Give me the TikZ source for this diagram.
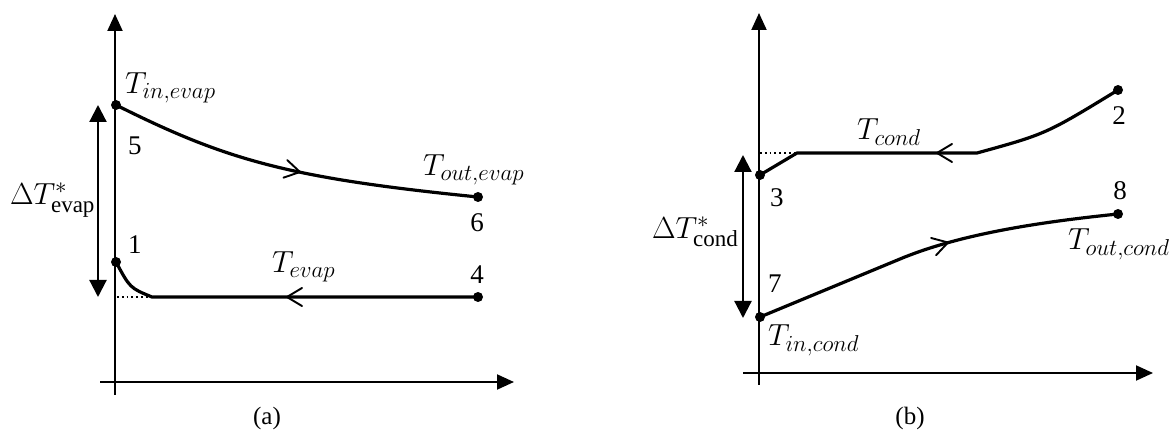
\RequirePackage{fix-cm}
\documentclass[tikz,border=0pt]{standalone}
\usepackage{fontspec}
\setmainfont{Liberation Serif}
\usetikzlibrary{arrows.meta}
\DeclareMathSizes{30.5}{30.5}{23}{18}
\begin{document}
\begin{tikzpicture}[x=1pt,y=-1pt,
  every node/.style={inner sep=0pt, outer sep=0pt},
  axis/.style={line width=2pt, -{Triangle[length=17pt,width=15pt]}},
  curve/.style={line width=3.2pt, line cap=round, line join=round},
  dimarrow/.style={line width=2.2pt, {Triangle[length=17pt,width=17pt]}-{Triangle[length=17pt,width=17pt]}},
  dotline/.style={line width=1.8pt, dash pattern=on 1.8pt off 3pt},
  dot/.style={circle, fill=black, inner sep=0pt, minimum size=10pt},
  mth/.style={font=\fontsize{30.5}{36}\selectfont},
  num/.style={font=\fontsize{27}{32}\selectfont},
  captext/.style={font=\fontsize{25}{30}\selectfont},
  chev/.pic={\draw[line width=1.9pt, line cap=round, line join=miter] (-15,9) -- (0,0) -- (-15,-9);}
]
\useasboundingbox (0,0) rectangle (1176,438);

% ---------- panel (a) ----------
\coordinate (ayb) at (115,395);
\coordinate (ayt) at (115,14);
\coordinate (axl) at (100,382);
\coordinate (axr) at (514,382);
\draw[axis] (ayb) -- (ayt);
\draw[axis] (axl) -- (axr);

\node[dot] (p5) at (116,105) {};
\node[dot] (p6) at (478,197) {};
\node[dot] (p1) at (116,262) {};
\node[dot] (p4) at (478,297) {};
\coordinate (a1) at (152,297);
\coordinate (a0) at (117,297);

\draw[curve] (p5.center) .. controls (226,160) and (288,178) .. (p6.center);
\draw[curve] (p4.center) -- (a1) .. controls (130,288) .. (p1.center);
\draw[dotline] (a0) -- (a1);
\pic[rotate=-12] at (300,172) {chev};
\pic[rotate=180] at (287,297) {chev};

\coordinate (da1) at (98,105);
\coordinate (da2) at (98,297);
\draw[dimarrow] (da1) -- (da2);

\node[mth, anchor=base west] (tin) at (125,94) {$T_{in,evap}$};
\node[num, anchor=base west] (n5) at (128,155) {5};
\node[mth, anchor=base west] (tout) at (423,176) {$T_{out,evap}$};
\node[num, anchor=base] (n6) at (477,232) {6};
\node[num, anchor=base west] (n1) at (128,254) {1};
\node[mth, anchor=base west] (tev) at (272,273) {$T_{evap}$};
\node[num, anchor=base] (n4) at (477,284) {4};
\node[mth, anchor=base west] (dte) at (10,205) {$\Delta T^{*}_{\mathrm{evap}}$};
\node[captext] (capa) at (267,418) {(a)};

% ---------- panel (b) ----------
\coordinate (byb) at (759,385);
\coordinate (byt) at (759,13);
\coordinate (bxl) at (743,373);
\coordinate (bxr) at (1153,373);
\draw[axis] (byb) -- (byt);
\draw[axis] (bxl) -- (bxr);

\node[dot] (p3) at (760,175) {};
\node[dot] (p2) at (1118,90) {};
\node[dot] (p7) at (760,317) {};
\node[dot] (p8) at (1118,214) {};
\coordinate (b3) at (797,153);
\coordinate (b2) at (977,153);
\coordinate (b0) at (760,153);
\coordinate (b7) at (900,259);

\draw[curve] (p2.center) .. controls (1046,134) .. (b2) -- (b3) -- (p3.center);
\draw[dotline] (b0) -- (b3);
\draw[curve] (p7.center) -- (b7) .. controls (960,234) and (1040,222) .. (p8.center);
\pic[rotate=180] at (937,153) {chev};
\pic[rotate=16] at (948,242.5) {chev};

\coordinate (db1) at (743,155);
\coordinate (db2) at (743,318);
\draw[dimarrow] (db1) -- (db2);

\node[mth, anchor=base west] (tcond) at (857,140) {$T_{cond}$};
\node[num, anchor=base] (n2) at (1119,125) {2};
\node[num, anchor=base west] (n3) at (770,207) {3};
\node[mth, anchor=base west] (dtc) at (652,239) {$\Delta T^{*}_{\mathrm{cond}}$};
\node[num, anchor=base west] (n7) at (768,293) {7};
\node[mth, anchor=base west] (tinc) at (768,346) {$T_{in,cond}$};
\node[num, anchor=base] (n8) at (1120,200) {8};
\node[mth, anchor=base west] (toutc) at (1068,250) {$T_{out,cond}$};
\node[captext] (capb) at (910,418) {(b)};
\end{tikzpicture}
\end{document}
